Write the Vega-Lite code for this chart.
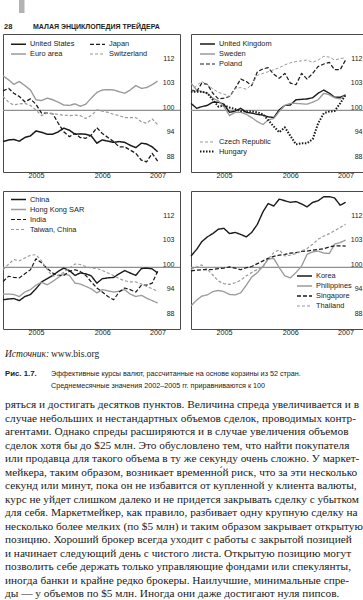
{
"$schema": "https://vega.github.io/schema/vega-lite/v6.json",
"padding": {"left": 1, "top": 0, "right": 0, "bottom": 0},
"background": "white",
"config": {
  "view": {"stroke": null},
  "font": "Liberation Sans, Arial, sans-serif",
  "axis": {"labelFont": "Liberation Sans, Arial, sans-serif", "labelColor": "#222", "labelFontSize": 7.2},
  "legend": {"labelFont": "Liberation Sans, Arial, sans-serif", "labelFontSize": 7.4, "labelColor": "#222", "symbolType": "M-1.5,0L1.5,0", "symbolSize": 100, "labelOffset": 5.5, "padding": 0},
  "title": {"color": "#222", "fontWeight": "normal", "anchor": "start", "frame": "group", "offset": 0},
  "point": {"size": 0},
  "line": {"strokeJoin": "round"}
},
"datasets": {
"fx": [
{"d":"2005-01-01","United States":92.3,"Euro area":108.5,"Japan":104.8,"Switzerland":103.4,"United Kingdom":101.7,"Sweden":106.7,"Poland":105.0,"Czech Republic":104.6,"Hungary":104.6,"China":92.0,"Hong Kong SAR":93.4,"India":96.5,"Taiwan, China":99.4,"Korea":102.8,"Philippines":90.5,"Singapore":99.1,"Thailand":99.5},
{"d":"2005-02-01","United States":92.7,"Euro area":107.5,"Japan":105.4,"Switzerland":102.0,"United Kingdom":100.5,"Sweden":105.0,"Poland":104.6,"Czech Republic":106.1,"Hungary":104.6,"China":92.2,"Hong Kong SAR":93.4,"India":97.8,"Taiwan, China":100.8,"Korea":104.4,"Philippines":91.9,"Singapore":99.3,"Thailand":100.1},
{"d":"2005-03-01","United States":92.8,"Euro area":106.4,"Japan":104.2,"Switzerland":101.3,"United Kingdom":100.9,"Sweden":104.6,"Poland":106.7,"Czech Republic":107.1,"Hungary":104.6,"China":92.3,"Hong Kong SAR":93.3,"India":97.5,"Taiwan, China":101.9,"Korea":106.3,"Philippines":92.9,"Singapore":99.4,"Thailand":100.6},
{"d":"2005-04-01","United States":92.4,"Euro area":107.1,"Japan":103.4,"Switzerland":101.6,"United Kingdom":101.2,"Sweden":104.2,"Poland":106.4,"Czech Republic":106.3,"Hungary":104.2,"China":91.8,"Hong Kong SAR":92.8,"India":97.4,"Taiwan, China":101.6,"Korea":107.5,"Philippines":93.2,"Singapore":99.4,"Thailand":99.5},
{"d":"2005-05-01","United States":93.3,"Euro area":106.1,"Japan":102.1,"Switzerland":101.7,"United Kingdom":102.0,"Sweden":103.0,"Poland":104.2,"Czech Republic":105.3,"Hungary":102.6,"China":92.8,"Hong Kong SAR":93.9,"India":98.4,"Taiwan, China":102.3,"Korea":108.3,"Philippines":94.0,"Singapore":99.5,"Thailand":98.1},
{"d":"2005-06-01","United States":93.7,"Euro area":105.0,"Japan":102.8,"Switzerland":101.2,"United Kingdom":102.0,"Sweden":102.3,"Poland":102.8,"Czech Republic":104.4,"Hungary":100.9,"China":93.3,"Hong Kong SAR":94.5,"India":99.4,"Taiwan, China":103.0,"Korea":109.4,"Philippines":94.3,"Singapore":99.7,"Thailand":96.6},
{"d":"2005-07-01","United States":94.9,"Euro area":102.6,"Japan":101.5,"Switzerland":100.1,"United Kingdom":101.5,"Sweden":100.9,"Poland":103.0,"Czech Republic":104.0,"Hungary":101.2,"China":94.7,"Hong Kong SAR":95.6,"India":102.1,"Taiwan, China":103.1,"Korea":109.6,"Philippines":94.0,"Singapore":99.8,"Thailand":96.0},
{"d":"2005-08-01","United States":94.6,"Euro area":102.4,"Japan":99.3,"Switzerland":98.7,"United Kingdom":99.5,"Sweden":98.7,"Poland":103.4,"Czech Republic":103.4,"Hungary":100.7,"China":96.4,"Hong Kong SAR":96.3,"India":101.1,"Taiwan, China":101.6,"Korea":108.3,"Philippines":93.3,"Singapore":100.1,"Thailand":95.8},
{"d":"2005-09-01","United States":94.1,"Euro area":103.0,"Japan":99.3,"Switzerland":99.3,"United Kingdom":99.8,"Sweden":99.5,"Poland":105.4,"Czech Republic":105.4,"Hungary":100.3,"China":97.2,"Hong Kong SAR":95.7,"India":99.7,"Taiwan, China":99.4,"Korea":108.6,"Philippines":93.2,"Singapore":99.8,"Thailand":96.2},
{"d":"2005-10-01","United States":94.1,"Euro area":102.6,"Japan":99.2,"Switzerland":99.2,"United Kingdom":100.5,"Sweden":99.5,"Poland":107.7,"Czech Republic":105.6,"Hungary":99.8,"China":98.0,"Hong Kong SAR":96.5,"India":98.6,"Taiwan, China":97.8,"Korea":108.1,"Philippines":93.7,"Singapore":99.4,"Thailand":96.8},
{"d":"2005-11-01","United States":94.7,"Euro area":102.0,"Japan":96.8,"Switzerland":99.0,"United Kingdom":99.5,"Sweden":99.0,"Poland":107.1,"Czech Republic":105.2,"Hungary":99.7,"China":99.0,"Hong Kong SAR":97.5,"India":98.0,"Taiwan, China":98.0,"Korea":107.5,"Philippines":95.6,"Singapore":99.9,"Thailand":97.9},
{"d":"2005-12-01","United States":95.6,"Euro area":101.3,"Japan":94.7,"Switzerland":98.8,"United Kingdom":99.3,"Sweden":98.2,"Poland":106.1,"Czech Republic":106.3,"Hungary":99.7,"China":99.8,"Hong Kong SAR":98.4,"India":98.0,"Taiwan, China":98.8,"Korea":108.6,"Philippines":97.6,"Singapore":100.2,"Thailand":98.7},
{"d":"2006-01-01","United States":95.1,"Euro area":101.2,"Japan":93.5,"Switzerland":98.7,"United Kingdom":99.0,"Sweden":97.2,"Poland":109.5,"Czech Republic":108.6,"Hungary":99.5,"China":99.2,"Hong Kong SAR":98.0,"India":99.0,"Taiwan, China":99.8,"Korea":110.6,"Philippines":98.7,"Singapore":100.9,"Thailand":99.5},
{"d":"2006-02-01","United States":94.1,"Euro area":101.6,"Japan":94.3,"Switzerland":98.8,"United Kingdom":98.8,"Sweden":96.5,"Poland":110.2,"Czech Republic":109.1,"Hungary":99.0,"China":98.0,"Hong Kong SAR":96.1,"India":99.4,"Taiwan, China":100.8,"Korea":113.7,"Philippines":100.3,"Singapore":101.6,"Thailand":100.1},
{"d":"2006-03-01","United States":94.2,"Euro area":101.0,"Japan":93.3,"Switzerland":98.7,"United Kingdom":98.4,"Sweden":97.6,"Poland":110.5,"Czech Republic":109.5,"Hungary":97.6,"China":98.6,"Hong Kong SAR":95.9,"India":99.0,"Taiwan, China":100.7,"Korea":115.7,"Philippines":102.0,"Singapore":102.2,"Thailand":102.0},
{"d":"2006-04-01","United States":94.1,"Euro area":101.5,"Japan":93.1,"Switzerland":98.0,"United Kingdom":98.2,"Sweden":98.0,"Poland":108.9,"Czech Republic":110.0,"Hungary":96.0,"China":98.4,"Hong Kong SAR":95.3,"India":98.0,"Taiwan, China":100.2,"Korea":115.1,"Philippines":102.2,"Singapore":102.7,"Thailand":103.6},
{"d":"2006-05-01","United States":93.7,"Euro area":103.0,"Japan":93.9,"Switzerland":98.7,"United Kingdom":100.1,"Sweden":99.7,"Poland":107.9,"Czech Republic":110.5,"Hungary":94.6,"China":97.9,"Hong Kong SAR":94.7,"India":96.4,"Taiwan, China":99.8,"Korea":116.8,"Philippines":99.9,"Singapore":103.0,"Thailand":104.3},
{"d":"2006-06-01","United States":91.9,"Euro area":104.4,"Japan":95.7,"Switzerland":100.1,"United Kingdom":101.2,"Sweden":101.2,"Poland":109.1,"Czech Republic":111.2,"Hungary":95.8,"China":96.1,"Hong Kong SAR":93.7,"India":94.9,"Taiwan, China":99.7,"Korea":116.4,"Philippines":97.9,"Singapore":103.2,"Thailand":102.8},
{"d":"2006-07-01","United States":92.7,"Euro area":105.0,"Japan":94.3,"Switzerland":99.8,"United Kingdom":101.3,"Sweden":101.7,"Poland":106.7,"Czech Republic":111.7,"Hungary":93.7,"China":97.2,"Hong Kong SAR":94.5,"India":93.9,"Taiwan, China":99.2,"Korea":116.0,"Philippines":97.4,"Singapore":103.5,"Thailand":103.0},
{"d":"2006-08-01","United States":92.4,"Euro area":105.1,"Japan":93.3,"Switzerland":99.5,"United Kingdom":102.6,"Sweden":101.7,"Poland":106.3,"Czech Republic":112.0,"Hungary":91.6,"China":97.4,"Hong Kong SAR":94.2,"India":92.8,"Taiwan, China":98.6,"Korea":116.2,"Philippines":98.7,"Singapore":103.6,"Thailand":103.4},
{"d":"2006-09-01","United States":92.1,"Euro area":105.0,"Japan":92.3,"Switzerland":99.0,"United Kingdom":102.7,"Sweden":101.6,"Poland":109.1,"Czech Republic":112.2,"Hungary":91.9,"China":97.5,"Hong Kong SAR":93.9,"India":92.0,"Taiwan, China":98.0,"Korea":115.6,"Philippines":100.3,"Singapore":103.9,"Thailand":104.0},
{"d":"2006-10-01","United States":92.3,"Euro area":104.6,"Japan":91.0,"Switzerland":98.7,"United Kingdom":102.8,"Sweden":101.5,"Poland":107.7,"Czech Republic":112.4,"Hungary":91.9,"China":98.4,"Hong Kong SAR":94.1,"India":93.9,"Taiwan, China":97.2,"Korea":114.9,"Philippines":103.2,"Singapore":104.0,"Thailand":104.6},
{"d":"2006-11-01","United States":92.1,"Euro area":104.2,"Japan":91.0,"Switzerland":98.2,"United Kingdom":103.1,"Sweden":102.0,"Poland":109.1,"Czech Republic":111.8,"Hungary":92.9,"China":99.2,"Hong Kong SAR":94.5,"India":94.9,"Taiwan, China":96.7,"Korea":116.0,"Philippines":103.8,"Singapore":104.2,"Thailand":105.7},
{"d":"2006-12-01","United States":91.4,"Euro area":105.0,"Japan":90.2,"Switzerland":98.2,"United Kingdom":104.2,"Sweden":102.6,"Poland":110.8,"Czech Republic":112.4,"Hungary":96.8,"China":98.6,"Hong Kong SAR":93.4,"India":94.5,"Taiwan, China":96.4,"Korea":116.4,"Philippines":104.0,"Singapore":104.4,"Thailand":106.9},
{"d":"2007-01-01","United States":90.8,"Euro area":106.1,"Japan":89.4,"Switzerland":98.2,"United Kingdom":105.0,"Sweden":104.2,"Poland":111.4,"Czech Republic":113.3,"Hungary":99.3,"China":98.0,"Hong Kong SAR":92.8,"India":93.9,"Taiwan, China":96.4,"Korea":117.4,"Philippines":103.5,"Singapore":104.6,"Thailand":107.7},
{"d":"2007-02-01","United States":91.9,"Euro area":105.4,"Japan":87.7,"Switzerland":97.2,"United Kingdom":104.2,"Sweden":103.8,"Poland":111.8,"Czech Republic":113.1,"Hungary":99.7,"China":99.7,"Hong Kong SAR":93.1,"India":95.6,"Taiwan, China":95.9,"Korea":117.4,"Philippines":103.4,"Singapore":105.0,"Thailand":108.3},
{"d":"2007-03-01","United States":91.7,"Euro area":105.6,"Japan":87.3,"Switzerland":96.8,"United Kingdom":103.2,"Sweden":103.1,"Poland":110.0,"Czech Republic":112.4,"Hungary":99.8,"China":99.8,"Hong Kong SAR":92.4,"India":95.6,"Taiwan, China":95.3,"Korea":117.1,"Philippines":105.7,"Singapore":105.3,"Thailand":109.0},
{"d":"2007-04-01","United States":91.0,"Euro area":106.3,"Japan":89.4,"Switzerland":97.9,"United Kingdom":103.2,"Sweden":102.8,"Poland":110.0,"Czech Republic":112.7,"Hungary":101.7,"China":99.6,"Hong Kong SAR":91.8,"India":96.1,"Taiwan, China":94.7,"Korea":115.3,"Philippines":106.1,"Singapore":105.3,"Thailand":109.8},
{"d":"2007-05-01","United States":89.8,"Euro area":107.2,"Japan":87.5,"Switzerland":96.5,"United Kingdom":103.8,"Sweden":103.8,"Poland":112.4,"Czech Republic":113.0,"Hungary":103.8,"China":98.6,"Hong Kong SAR":91.2,"India":99.0,"Taiwan, China":94.1,"Korea":116.0,"Philippines":106.7,"Singapore":105.2,"Thailand":110.6}
]
},
"spacing": 0,
"vconcat": [
{
  "spacing": 2,
  "hconcat": [
    {"width": 14, "height": 0, "data": {"values": [{}]}, "mark": {"type": "point", "opacity": 0},
     "title": {"text": "28", "orient": "bottom", "fontSize": 7.5, "fontWeight": "bold", "dx": 1, "dy": -1}},
    {"width": 5.5, "height": 13, "view": {"fill": "#b3b3b3", "stroke": null}, "data": {"values": [{}]}, "mark": {"type": "point", "opacity": 0}},
    {"width": 1, "height": 0, "data": {"values": [{}]}, "mark": {"type": "point", "opacity": 0},
     "title": {"text": "МАЛАЯ ЭНЦИКЛОПЕДИЯ ТРЕЙДЕРА", "orient": "bottom", "fontSize": 7, "fontWeight": "bold", "dx": 6, "dy": -1}}
  ]
},
{"width": 1, "height": 2, "data": {"values": [{}]}, "mark": {"type": "point", "opacity": 0}},
{
  "spacing": 11,
  "resolve": {"scale": {"color": "independent", "strokeDash": "independent", "strokeWidth": "independent"}},
  "vconcat": [
    {"spacing": 7,
     "resolve": {"scale": {"color": "independent", "strokeDash": "independent", "strokeWidth": "independent"}},
     "hconcat": [
      {
        "width": 177, "height": 138,
        "view": {"stroke": "#4a4a4a", "strokeWidth": 1},
        "layer": [
          {"data": {"values": [{}]}, "mark": {"type": "rule", "color": "#8f8f8f", "strokeWidth": 1.2},
           "encoding": {"y": {"datum": 100, "type": "quantitative", "scale": {"domain": [84.8, 118.8], "nice": false, "zero": false},
             "axis": {"orient": "right", "title": null, "values": [88, 94, 100, 106, 112], "labelExpr": "datum.value == 106 ? '103' : datum.label", "domain": false, "ticks": false, "tickSize": 0, "grid": false, "labelAlign": "right", "labelBaseline": "bottom", "labelPadding": -6, "labelFontSize": 7}}}},
          {"data": {"name": "fx"}, "transform": [{"fold": ["United States", "Euro area", "Japan", "Switzerland"], "as": ["s", "v"]}],
           "mark": {"type": "line"},
           "encoding": {
             "y": {"field": "v", "type": "quantitative", "scale": {"domain": [84.8, 118.8], "nice": false, "zero": false},
               "axis": {"orient": "right", "title": null, "values": [88, 94, 100, 106, 112], "labelExpr": "datum.value == 106 ? '103' : datum.label", "domain": false, "ticks": false, "tickSize": 0, "grid": false, "labelAlign": "right", "labelBaseline": "bottom", "labelPadding": -6, "labelFontSize": 7}},
             "x": {"field": "d", "type": "temporal", "scale": {"type": "utc", "domain": [{"year": 2005, "month": 1, "date": 1, "utc": true}, {"year": 2007, "month": 9, "date": 1, "utc": true}], "nice": false},
               "axis": {"title": null, "domain": false, "grid": false, "tickCount": {"interval": "month", "step": 1}, "tickColor": "#333", "tickWidth": 1, "tickSize": 0,
                 "encode": {"ticks": {"update": {"y2": {"signal": "utcmonth(datum.value) == 0 ? -12 : (utcmonth(datum.value) % 3 == 0 ? -6 : -3.5)"}}}},
                 "labelExpr": "(utcmonth(datum.value) == 6 && utcyear(datum.value) < 2007) || (utcmonth(datum.value) == 4 && utcyear(datum.value) == 2007) ? utcFormat(datum.value, '%Y') : ''",
                 "labelOverlap": false, "labelFlush": false, "labelBound": false, "labelPadding": -1}},
             "color": {"field": "s", "type": "nominal", "scale": {"domain": ["United States", "Euro area", "Japan", "Switzerland"], "range": ["#1a1a1a", "#9a9a9a", "#1a1a1a", "#9a9a9a"]},
               "legend": {"title": null, "orient": "none", "legendX": 9.5, "legendY": 4, "columns": 2, "columnPadding": 14, "rowPadding": 0}},
             "strokeDash": {"field": "s", "type": "nominal", "scale": {"domain": ["United States", "Euro area", "Japan", "Switzerland"], "range": [[1, 0], [1, 0], [4, 2], [3, 2]]}},
             "strokeWidth": {"field": "s", "type": "nominal", "scale": {"domain": ["United States", "Euro area", "Japan", "Switzerland"], "range": [1.5, 1.2, 1.4, 1.0]}}
           }}
        ]
      },
      {
        "width": 177, "height": 138,
        "view": {"stroke": "#4a4a4a", "strokeWidth": 1},
        "layer": [
          {"data": {"values": [{}]}, "mark": {"type": "rule", "color": "#8f8f8f", "strokeWidth": 1.2},
           "encoding": {"y": {"datum": 100, "type": "quantitative", "scale": {"domain": [84.8, 118.8], "nice": false, "zero": false},
             "axis": {"orient": "right", "title": null, "values": [88, 94, 100, 106, 112], "labelExpr": "datum.value == 106 ? '103' : datum.label", "domain": false, "ticks": false, "tickSize": 0, "grid": false, "labelAlign": "right", "labelBaseline": "bottom", "labelPadding": -6, "labelFontSize": 7}}}},
          {"data": {"name": "fx"}, "transform": [{"fold": ["United Kingdom", "Sweden", "Poland"], "as": ["s", "v"]}],
           "mark": {"type": "line"},
           "encoding": {
             "y": {"field": "v", "type": "quantitative", "scale": {"domain": [84.8, 118.8], "nice": false, "zero": false},
               "axis": {"orient": "right", "title": null, "values": [88, 94, 100, 106, 112], "labelExpr": "datum.value == 106 ? '103' : datum.label", "domain": false, "ticks": false, "tickSize": 0, "grid": false, "labelAlign": "right", "labelBaseline": "bottom", "labelPadding": -6, "labelFontSize": 7}},
             "x": {"field": "d", "type": "temporal", "scale": {"type": "utc", "domain": [{"year": 2005, "month": 1, "date": 1, "utc": true}, {"year": 2007, "month": 9, "date": 1, "utc": true}], "nice": false},
               "axis": {"title": null, "domain": false, "grid": false, "tickCount": {"interval": "month", "step": 1}, "tickColor": "#333", "tickWidth": 1, "tickSize": 0,
                 "encode": {"ticks": {"update": {"y2": {"signal": "utcmonth(datum.value) == 0 ? -12 : (utcmonth(datum.value) % 3 == 0 ? -6 : -3.5)"}}}},
                 "labelExpr": "(utcmonth(datum.value) == 6 && utcyear(datum.value) < 2007) || (utcmonth(datum.value) == 4 && utcyear(datum.value) == 2007) ? utcFormat(datum.value, '%Y') : ''",
                 "labelOverlap": false, "labelFlush": false, "labelBound": false, "labelPadding": -1}},
             "color": {"field": "s", "type": "nominal", "scale": {"domain": ["United Kingdom", "Sweden", "Poland"], "range": ["#1a1a1a", "#9a9a9a", "#1a1a1a"]},
               "legend": {"title": null, "orient": "none", "legendX": 10.5, "legendY": 4, "rowPadding": -1.7}},
             "strokeDash": {"field": "s", "type": "nominal", "scale": {"domain": ["United Kingdom", "Sweden", "Poland"], "range": [[1, 0], [1, 0], [4, 2]]}},
             "strokeWidth": {"field": "s", "type": "nominal", "scale": {"domain": ["United Kingdom", "Sweden", "Poland"], "range": [1.4, 1.2, 1.4]}}
           }},
          {"data": {"name": "fx"}, "transform": [{"fold": ["Czech Republic", "Hungary"], "as": ["s2", "v"]}],
           "mark": {"type": "line"},
           "encoding": {
             "y": {"field": "v", "type": "quantitative", "scale": {"domain": [84.8, 118.8], "nice": false, "zero": false},
               "axis": {"orient": "right", "title": null, "values": [88, 94, 100, 106, 112], "labelExpr": "datum.value == 106 ? '103' : datum.label", "domain": false, "ticks": false, "tickSize": 0, "grid": false, "labelAlign": "right", "labelBaseline": "bottom", "labelPadding": -6, "labelFontSize": 7}},
             "x": {"field": "d", "type": "temporal", "scale": {"type": "utc", "domain": [{"year": 2005, "month": 1, "date": 1, "utc": true}, {"year": 2007, "month": 9, "date": 1, "utc": true}], "nice": false},
               "axis": {"title": null, "domain": false, "grid": false, "tickCount": {"interval": "month", "step": 1}, "tickColor": "#333", "tickWidth": 1, "tickSize": 0,
                 "encode": {"ticks": {"update": {"y2": {"signal": "utcmonth(datum.value) == 0 ? -12 : (utcmonth(datum.value) % 3 == 0 ? -6 : -3.5)"}}}},
                 "labelExpr": "(utcmonth(datum.value) == 6 && utcyear(datum.value) < 2007) || (utcmonth(datum.value) == 4 && utcyear(datum.value) == 2007) ? utcFormat(datum.value, '%Y') : ''",
                 "labelOverlap": false, "labelFlush": false, "labelBound": false, "labelPadding": -1}},
             "color": {"field": "s2", "type": "nominal", "scale": {"domain": ["Czech Republic", "Hungary"], "range": ["#9a9a9a", "#1a1a1a"]},
               "legend": {"title": null, "orient": "none", "legendX": 10.5, "legendY": 102.5, "rowPadding": -1}},
             "strokeDash": {"field": "s2", "type": "nominal", "scale": {"domain": ["Czech Republic", "Hungary"], "range": [[3, 2], [1.5, 1.5]]}},
             "strokeWidth": {"field": "s2", "type": "nominal", "scale": {"domain": ["Czech Republic", "Hungary"], "range": [1.0, 2.0]}}
           }}
        ],
        "resolve": {"scale": {"color": "independent", "strokeDash": "independent", "strokeWidth": "independent"}}
      }
    ]},
    {"spacing": 7,
     "resolve": {"scale": {"color": "independent", "strokeDash": "independent", "strokeWidth": "independent"}},
     "hconcat": [
      {
        "width": 177, "height": 138,
        "view": {"stroke": "#4a4a4a", "strokeWidth": 1},
        "layer": [
          {"data": {"values": [{}]}, "mark": {"type": "rule", "color": "#8f8f8f", "strokeWidth": 1.2},
           "encoding": {"y": {"datum": 100, "type": "quantitative", "scale": {"domain": [84.8, 118.8], "nice": false, "zero": false},
             "axis": {"orient": "right", "title": null, "values": [88, 94, 100, 106, 112], "labelExpr": "datum.value == 106 ? '103' : datum.label", "domain": false, "ticks": false, "tickSize": 0, "grid": false, "labelAlign": "right", "labelBaseline": "bottom", "labelPadding": -6, "labelFontSize": 7}}}},
          {"data": {"name": "fx"}, "transform": [{"fold": ["China", "Hong Kong SAR", "India", "Taiwan, China"], "as": ["s", "v"]}],
           "mark": {"type": "line"},
           "encoding": {
             "y": {"field": "v", "type": "quantitative", "scale": {"domain": [84.8, 118.8], "nice": false, "zero": false},
               "axis": {"orient": "right", "title": null, "values": [88, 94, 100, 106, 112], "labelExpr": "datum.value == 106 ? '103' : datum.label", "domain": false, "ticks": false, "tickSize": 0, "grid": false, "labelAlign": "right", "labelBaseline": "bottom", "labelPadding": -6, "labelFontSize": 7}},
             "x": {"field": "d", "type": "temporal", "scale": {"type": "utc", "domain": [{"year": 2005, "month": 1, "date": 1, "utc": true}, {"year": 2007, "month": 9, "date": 1, "utc": true}], "nice": false},
               "axis": {"title": null, "domain": false, "grid": false, "tickCount": {"interval": "month", "step": 1}, "tickColor": "#333", "tickWidth": 1, "tickSize": 0,
                 "encode": {"ticks": {"update": {"y2": {"signal": "utcmonth(datum.value) == 0 ? -12 : (utcmonth(datum.value) % 3 == 0 ? -6 : -3.5)"}}}},
                 "labelExpr": "(utcmonth(datum.value) == 6 && utcyear(datum.value) < 2007) || (utcmonth(datum.value) == 4 && utcyear(datum.value) == 2007) ? utcFormat(datum.value, '%Y') : ''",
                 "labelOverlap": false, "labelFlush": false, "labelBound": false, "labelPadding": -1}},
             "color": {"field": "s", "type": "nominal", "scale": {"domain": ["China", "Hong Kong SAR", "India", "Taiwan, China"], "range": ["#1a1a1a", "#9a9a9a", "#1a1a1a", "#9a9a9a"]},
               "legend": {"title": null, "orient": "none", "legendX": 9.5, "legendY": 2.5, "rowPadding": -2.5}},
             "strokeDash": {"field": "s", "type": "nominal", "scale": {"domain": ["China", "Hong Kong SAR", "India", "Taiwan, China"], "range": [[1, 0], [1, 0], [4, 2], [3, 2]]}},
             "strokeWidth": {"field": "s", "type": "nominal", "scale": {"domain": ["China", "Hong Kong SAR", "India", "Taiwan, China"], "range": [1.4, 1.1, 1.4, 1.0]}}
           }}
        ]
      },
      {
        "width": 177, "height": 138,
        "view": {"stroke": "#4a4a4a", "strokeWidth": 1},
        "layer": [
          {"data": {"values": [{}]}, "mark": {"type": "rule", "color": "#8f8f8f", "strokeWidth": 1.2},
           "encoding": {"y": {"datum": 100, "type": "quantitative", "scale": {"domain": [84.8, 118.8], "nice": false, "zero": false},
             "axis": {"orient": "right", "title": null, "values": [88, 94, 100, 106, 112], "labelExpr": "datum.value == 106 ? '103' : datum.label", "domain": false, "ticks": false, "tickSize": 0, "grid": false, "labelAlign": "right", "labelBaseline": "bottom", "labelPadding": -6, "labelFontSize": 7}}}},
          {"data": {"name": "fx"}, "transform": [{"fold": ["Korea", "Philippines", "Singapore", "Thailand"], "as": ["s", "v"]}],
           "mark": {"type": "line"},
           "encoding": {
             "y": {"field": "v", "type": "quantitative", "scale": {"domain": [84.8, 118.8], "nice": false, "zero": false},
               "axis": {"orient": "right", "title": null, "values": [88, 94, 100, 106, 112], "labelExpr": "datum.value == 106 ? '103' : datum.label", "domain": false, "ticks": false, "tickSize": 0, "grid": false, "labelAlign": "right", "labelBaseline": "bottom", "labelPadding": -6, "labelFontSize": 7}},
             "x": {"field": "d", "type": "temporal", "scale": {"type": "utc", "domain": [{"year": 2005, "month": 1, "date": 1, "utc": true}, {"year": 2007, "month": 9, "date": 1, "utc": true}], "nice": false},
               "axis": {"title": null, "domain": false, "grid": false, "tickCount": {"interval": "month", "step": 1}, "tickColor": "#333", "tickWidth": 1, "tickSize": 0,
                 "encode": {"ticks": {"update": {"y2": {"signal": "utcmonth(datum.value) == 0 ? -12 : (utcmonth(datum.value) % 3 == 0 ? -6 : -3.5)"}}}},
                 "labelExpr": "(utcmonth(datum.value) == 6 && utcyear(datum.value) < 2007) || (utcmonth(datum.value) == 4 && utcyear(datum.value) == 2007) ? utcFormat(datum.value, '%Y') : ''",
                 "labelOverlap": false, "labelFlush": false, "labelBound": false, "labelPadding": -1}},
             "color": {"field": "s", "type": "nominal", "scale": {"domain": ["Korea", "Philippines", "Singapore", "Thailand"], "range": ["#1a1a1a", "#9a9a9a", "#1a1a1a", "#9a9a9a"]},
               "legend": {"title": null, "orient": "none", "legendX": 107.5, "legendY": 79, "rowPadding": -1.7}},
             "strokeDash": {"field": "s", "type": "nominal", "scale": {"domain": ["Korea", "Philippines", "Singapore", "Thailand"], "range": [[1, 0], [1, 0], [4, 2], [3, 2]]}},
             "strokeWidth": {"field": "s", "type": "nominal", "scale": {"domain": ["Korea", "Philippines", "Singapore", "Thailand"], "range": [1.4, 1.2, 1.4, 1.0]}}
           }}
        ]
      }
    ]}
  ]
},
{
  "spacing": 0,
  "hconcat": [
    {"width": 48, "height": 9, "data": {"values": [{}]}, "mark": {"type": "point", "opacity": 0},
     "title": {"text": "Источник:", "orient": "bottom", "font": "Liberation Serif, DejaVu Serif, serif", "fontStyle": "italic", "fontSize": 9.5, "dx": 2}},
    {"width": 1, "height": 9, "data": {"values": [{}]}, "mark": {"type": "point", "opacity": 0},
     "title": {"text": "www.bis.org", "orient": "bottom", "font": "Liberation Serif, DejaVu Serif, serif", "fontSize": 9.5}}
  ]
},
{
  "spacing": 0,
  "hconcat": [
    {"width": 48, "height": 7, "data": {"values": [{}]}, "mark": {"type": "point", "opacity": 0},
     "title": {"text": "Рис. 1.7.", "orient": "bottom", "fontSize": 7.8, "fontWeight": "bold", "dx": 2}},
    {"width": 1, "height": 7, "data": {"values": [{}]}, "mark": {"type": "point", "opacity": 0},
     "title": {"text": ["Эффективные курсы валют, рассчитанные на основе корзины из 52 стран.", "Среднемесячные значения 2002–2005 гг. приравниваются к 100"], "orient": "bottom", "fontSize": 7.2, "lineHeight": 12}}
  ]
},
{
  "width": 1, "height": 5, "data": {"values": [{}]}, "mark": {"type": "point", "opacity": 0},
  "title": {"text": [
    "ряться и достигать десятков пунктов. Величина спреда увеличивается и в",
    "случае небольших и нестандартных объемов сделок, проводимых контр-",
    "агентами. Однако спреды расширяются и в случае увеличения объемов",
    "сделок хотя бы до $25 млн. Это обусловлено тем, что найти покупателя",
    "или продавца для такого объема в ту же секунду очень сложно. У маркет-",
    "мейкера, таким образом, возникает временно\u0301й риск, что за эти несколько",
    "секунд или минут, пока он не избавится от купленной у клиента валюты,",
    "курс не уйдет слишком далеко и не придется закрывать сделку с убытком",
    "для себя. Маркетмейкер, как правило, разбивает одну крупную сделку на",
    "несколько более мелких (по $5 млн) и таким образом закрывает открытую",
    "позицию. Хороший брокер всегда уходит с работы с закрытой позицией",
    "и начинает следующий день с чистого листа. Открытую позицию могут",
    "позволить себе держать только управляющие фондами или спекулянты,",
    "иногда банки и крайне редко брокеры. Наилучшие, минимальные спре-",
    "ды — у объемов по $5 млн. Иногда они даже достигают нуля пипсов."
  ], "orient": "bottom", "font": "Liberation Serif, DejaVu Serif, serif", "fontSize": 11.3, "lineHeight": 13.5, "color": "#1a1a1a", "dx": 2}
}
]
}
